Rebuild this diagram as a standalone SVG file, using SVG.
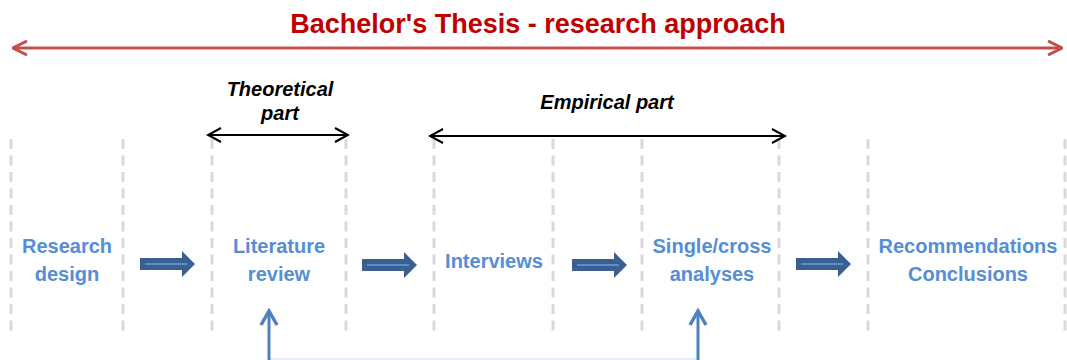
<svg xmlns="http://www.w3.org/2000/svg" width="1067" height="360" viewBox="0 0 1067 360">
<style>
.dash{stroke:#d9d9d9;stroke-width:3;stroke-dasharray:10 6.5;fill:none}
.step{font-family:"Liberation Sans",Arial,sans-serif;font-weight:bold;font-size:20px;fill:#558ed5;text-anchor:middle}
.part{font-family:"Liberation Sans",Arial,sans-serif;font-weight:bold;font-style:italic;font-size:20px;fill:#000;text-anchor:middle}
.title{font-family:"Liberation Sans",Arial,sans-serif;font-weight:bold;font-size:27px;fill:#c00000;text-anchor:middle}
.block{fill:#3b5f8e}
.blockline{stroke:#5b8ccb;stroke-width:2}
</style>
<defs>
<marker id="redHead" viewBox="0 0 16 16" refX="15" refY="8" markerWidth="16" markerHeight="16" markerUnits="userSpaceOnUse" orient="auto-start-reverse">
<path d="M1,1 L15,8 L1,15" fill="none" stroke="#c0504d" stroke-width="3"/>
</marker>
<marker id="blackHead" viewBox="0 0 16 16" refX="14" refY="8" markerWidth="16" markerHeight="16" markerUnits="userSpaceOnUse" orient="auto-start-reverse">
<path d="M1,1 L14,8 L1,15" fill="none" stroke="#000" stroke-width="2"/>
</marker>
<marker id="blueHead" viewBox="0 0 20 20" refX="17" refY="10" markerWidth="20" markerHeight="20" markerUnits="userSpaceOnUse" orient="auto">
<path d="M3,2 L17,10 L3,18" fill="none" stroke="#4f81bd" stroke-width="3.5"/>
</marker>
<path id="blockArrow" d="M0,-6 H42 V-13 L55,0 L42,13 V6 H0 Z"/>
</defs>

<g id="grid">
<line class="dash" x1="11" y1="139" x2="11" y2="331"/>
<line class="dash" x1="123" y1="139" x2="123" y2="331"/>
<line class="dash" x1="212" y1="139" x2="212" y2="331"/>
<line class="dash" x1="346" y1="139" x2="346" y2="331"/>
<line class="dash" x1="434" y1="139" x2="434" y2="331"/>
<line class="dash" x1="553" y1="139" x2="553" y2="331"/>
<line class="dash" x1="642" y1="139" x2="642" y2="331"/>
<line class="dash" x1="779" y1="139" x2="779" y2="331"/>
<line class="dash" x1="868" y1="139" x2="868" y2="331"/>
<line class="dash" x1="1065" y1="139" x2="1065" y2="331"/>
</g>

<g id="title">
<text class="title" x="538" y="33">Bachelor's Thesis - research approach</text>
</g>

<g id="theoretical">
<text class="part" x="280" y="96">Theoretical</text>
<text class="part" x="280" y="120">part</text>
</g>
<g id="empirical">
<text class="part" x="607" y="109">Empirical part</text>
</g>

<g id="research-design">
<text class="step" x="67" y="253">Research</text>
<text class="step" x="67" y="281">design</text>
</g>
<g id="literature-review">
<text class="step" x="279" y="253">Literature</text>
<text class="step" x="279" y="281">review</text>
</g>
<g id="interviews">
<text class="step" x="494" y="268">Interviews</text>
</g>
<g id="single-cross">
<text class="step" x="712" y="253">Single/cross</text>
<text class="step" x="712" y="281">analyses</text>
</g>
<g id="recommendations">
<text class="step" x="968" y="253">Recommendations</text>
<text class="step" x="968" y="281">Conclusions</text>
</g>

<g id="connectors">
<line x1="13" y1="48" x2="1062" y2="48" stroke="#c0504d" stroke-width="3" marker-start="url(#redHead)" marker-end="url(#redHead)"/>
<line x1="208" y1="135" x2="348" y2="135" stroke="#000" stroke-width="2" marker-start="url(#blackHead)" marker-end="url(#blackHead)"/>
<line x1="430" y1="136" x2="785" y2="136" stroke="#000" stroke-width="2" marker-start="url(#blackHead)" marker-end="url(#blackHead)"/>
<g transform="translate(140,264)"><use href="#blockArrow" class="block"/><line class="blockline" x1="5" y1="0" x2="47" y2="0"/></g>
<g transform="translate(362,265)"><use href="#blockArrow" class="block"/><line class="blockline" x1="5" y1="0" x2="47" y2="0"/></g>
<g transform="translate(572,265)"><use href="#blockArrow" class="block"/><line class="blockline" x1="5" y1="0" x2="47" y2="0"/></g>
<g transform="translate(796,264)"><use href="#blockArrow" class="block"/><line class="blockline" x1="5" y1="0" x2="47" y2="0"/></g>
<line x1="269" y1="359" x2="698" y2="359" stroke="#dbe5f1" stroke-width="1.5"/>
<line x1="269" y1="362" x2="269" y2="311" stroke="#4f81bd" stroke-width="3" marker-end="url(#blueHead)"/>
<line x1="698" y1="362" x2="698" y2="311" stroke="#4f81bd" stroke-width="3" marker-end="url(#blueHead)"/>
</g>
</svg>
